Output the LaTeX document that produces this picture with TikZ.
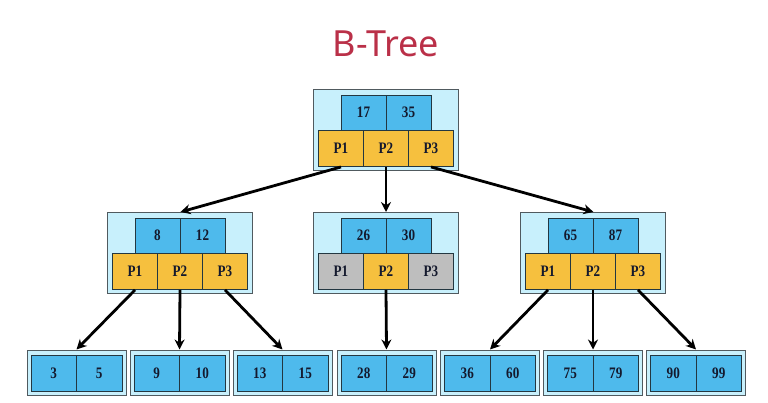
\documentclass[tikz,border=0pt]{standalone}
\usepackage{fontspec}
\setmainfont{Liberation Serif}
\newfontfamily\titlefont{Noto Sans}
\newfontfamily\cellfont[FakeStretch=0.82]{Liberation Serif}
\usetikzlibrary{arrows.meta}
\definecolor{outerfill}{RGB}{200,240,252}
\definecolor{keyblue}{RGB}{78,186,236}
\definecolor{pyellow}{RGB}{246,192,62}
\definecolor{pgray}{RGB}{190,190,190}
\definecolor{cellline}{RGB}{35,55,65}
\definecolor{boxline}{RGB}{80,90,95}
\definecolor{titlered}{RGB}{186,48,72}
\definecolor{celltext}{RGB}{20,25,45}
\tikzset{
  outerbox/.style={draw=boxline, fill=outerfill, line width=1pt, inner sep=0pt},
  cell/.style={draw=cellline, line width=0.9pt, inner sep=0pt, font=\cellfont\bfseries\fontsize{16}{16}\selectfont, text=celltext},
  keycell/.style={cell, fill=keyblue, minimum width=45pt, minimum height=35pt},
  pcell/.style={cell, fill=pyellow, minimum width=45pt, minimum height=36pt},
  graycell/.style={pcell, fill=pgray},
  leafcell/.style={cell, fill=keyblue, minimum width=45.5pt, minimum height=36pt},
  link/.style={line width=2.8pt, -{Stealth[length=10pt,width=10pt]}}
}
% #1 name, #2 cx, #3 cy (top of key row), #4 key1, #5 key2, #6/#7/#8 styles of P1,P2,P3
\newcommand{\treenode}[8]{%
  \node[outerbox, minimum width=145pt, minimum height=81pt] (#1box) at (#2,#3+35) {};
  \node[keycell] (#1k1) at (#2-22.5,#3+17.5) {#4};
  \node[keycell] (#1k2) at (#2+22.5,#3+17.5) {#5};
  \node[#6] (#1p1) at (#2-45,#3+53.5) {P1};
  \node[#7] (#1p2) at (#2,#3+53.5) {P2};
  \node[#8] (#1p3) at (#2+45,#3+53.5) {P3};
}
\newcommand{\leafnode}[4]{%
  \node[outerbox, minimum width=99pt, minimum height=45pt] (#1) at (#2,372.5) {};
  \node[leafcell] (#1a) at (#2-22.75,373) {#3};
  \node[leafcell] (#1b) at (#2+22.75,373) {#4};
}
\begin{document}
\begin{tikzpicture}[x=1pt,y=-1pt]
\useasboundingbox[fill=white] (0,0) rectangle (768,403);
\node[font=\titlefont\fontsize{36}{36}\selectfont, text=titlered] (title) at (386,44) {B-Tree};

\treenode{r}{386}{95}{17}{35}{pcell}{pcell}{pcell}
\treenode{l}{180}{218}{8}{12}{pcell}{pcell}{pcell}
\treenode{m}{386}{218}{26}{30}{graycell}{pcell}{graycell}
\treenode{q}{593}{218}{65}{87}{pcell}{pcell}{pcell}

\leafnode{a}{76.5}{3}{5}
\leafnode{b}{179.5}{9}{10}
\leafnode{c}{282.5}{13}{15}
\leafnode{d}{386.5}{28}{29}
\leafnode{e}{490}{36}{60}
\leafnode{f}{593}{75}{79}
\leafnode{g}{696}{90}{99}

\draw[link] (rp1.south) -- (lk1.east |- lbox.north);
\draw[link] (rp2.south) -- (mbox.north);
\draw[link] (rp3.south) -- (qk1.east |- qbox.north);

\draw[link] (lp1.south) -- (a.north);
\draw[link] (lp2.south) -- (b.north);
\draw[link] (lp3.south) -- (c.north);
\draw[link] (mp2.south) -- (d.north);
\draw[link] (qp1.south) -- (e.north);
\draw[link] (qp2.south) -- (f.north);
\draw[link] (qp3.south) -- (g.north);
\end{tikzpicture}
\end{document}
